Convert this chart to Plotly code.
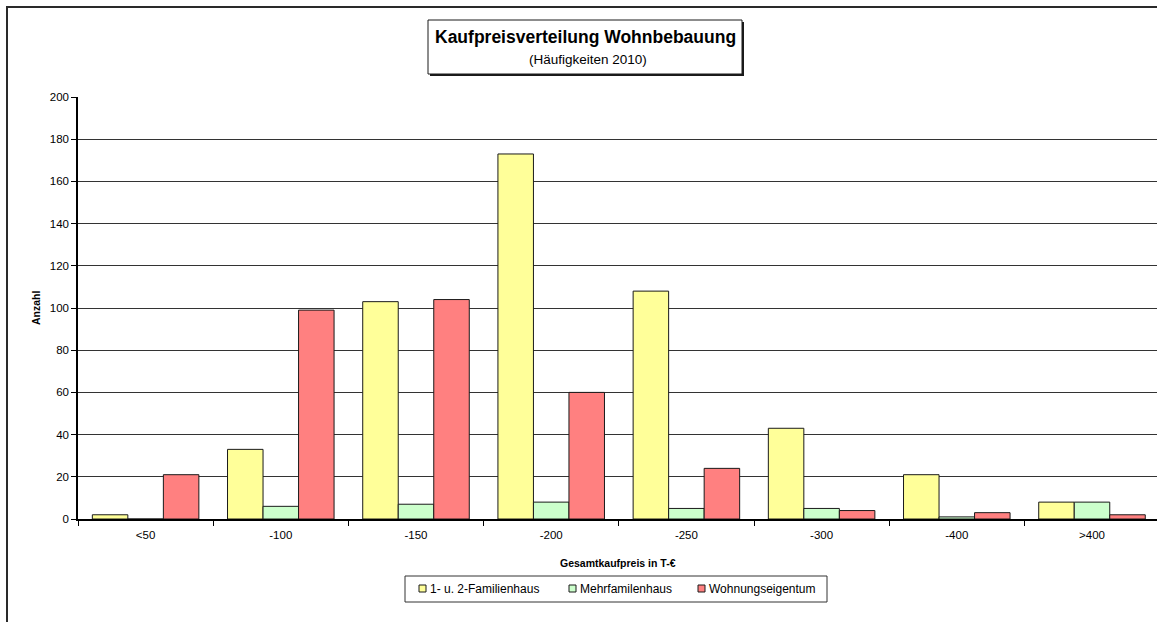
import plotly.graph_objects as go

# Price bands (thousand EUR) and counts per property type, 2010
categories = ["<50", "-100", "-150", "-200", "-250", "-300", "-400", ">400"]
einfamilienhaus = [2, 33, 103, 173, 108, 43, 21, 8]
mehrfamilienhaus = [0, 6, 7, 8, 5, 5, 1, 8]
wohnungseigentum = [21, 99, 104, 60, 24, 4, 3, 2]
series_names = ["1- u. 2-Familienhaus", "Mehrfamilenhaus", "Wohnungseigentum"]
y_ticks = list(range(0, 201, 20))

colors = ["#FFFF99", "#CCFFCC", "#FF8080"]
FONT = "Liberation Sans, Arial, sans-serif"

WIDTH, HEIGHT = 1157, 622
PLOT_LEFT, PLOT_TOP, PLOT_BOTTOM = 78, 97, 519
PLOT_W = WIDTH - PLOT_LEFT
PLOT_H = PLOT_BOTTOM - PLOT_TOP
CAT_PX = 135.2  # pixel width of one price band


def px(x):
    return (x - PLOT_LEFT) / PLOT_W


def py(y):
    return (PLOT_BOTTOM - y) / PLOT_H


fig = go.Figure()
for name, vals, col in zip(series_names,
                           [einfamilienhaus, mehrfamilienhaus, wohnungseigentum],
                           colors):
    fig.add_trace(go.Bar(
        x=categories, y=vals, name=name,
        marker=dict(color=col, line=dict(color="#1a1a1a", width=1)),
        showlegend=False,
    ))

shapes = []
annotations = []

# outer chart frame (left and top edges visible)
shapes.append(dict(type="rect", xref="paper", yref="paper",
                   x0=px(7), x1=px(1300), y0=py(700), y1=py(7),
                   line=dict(color="#2a2a2a", width=2), fillcolor="rgba(0,0,0,0)",
                   layer="below"))

# title box with drop shadow
shapes.append(dict(type="rect", xref="paper", yref="paper",
                   x0=px(430), x1=px(744), y0=py(76), y1=py(22),
                   line=dict(width=0), fillcolor="#1a1a1a"))
shapes.append(dict(type="rect", xref="paper", yref="paper",
                   x0=px(428), x1=px(742), y0=py(74), y1=py(20),
                   line=dict(color="#1a1a1a", width=1), fillcolor="white"))
annotations.append(dict(text="<b>Kaufpreisverteilung Wohnbebauung</b>",
                        xref="paper", yref="paper", x=px(585), y=py(37),
                        xanchor="center", yanchor="middle", showarrow=False,
                        font=dict(family=FONT, size=17.5, color="black")))
annotations.append(dict(text="(Häufigkeiten 2010)",
                        xref="paper", yref="paper", x=px(588), y=py(60),
                        xanchor="center", yanchor="middle", showarrow=False,
                        font=dict(family=FONT, size=13.5, color="black")))

# axis titles
annotations.append(dict(text="<b>Anzahl</b>", textangle=-90,
                        xref="paper", yref="paper", x=px(36), y=py(308),
                        xanchor="center", yanchor="middle", showarrow=False,
                        font=dict(family=FONT, size=10.5, color="black")))
annotations.append(dict(text="<b>Gesamtkaufpreis in T-€</b>",
                        xref="paper", yref="paper", x=px(618), y=py(563),
                        xanchor="center", yanchor="middle", showarrow=False,
                        font=dict(family=FONT, size=10.5, color="black")))

# legend box
shapes.append(dict(type="rect", xref="paper", yref="paper",
                   x0=px(405), x1=px(827), y0=py(602), y1=py(576),
                   line=dict(color="#333333", width=1), fillcolor="white"))
legend_x = [419, 569, 698]
for name, col, lx in zip(series_names, colors, legend_x):
    shapes.append(dict(type="rect", xref="paper", yref="paper",
                       x0=px(lx), x1=px(lx + 7), y0=py(592), y1=py(585),
                       line=dict(color="#1a1a1a", width=1), fillcolor=col))
    annotations.append(dict(text=name, xref="paper", yref="paper",
                            x=px(lx + 9), y=py(588.5),
                            xanchor="left", yanchor="middle", showarrow=False,
                            font=dict(family=FONT, size=12, color="black")))

fig.update_layout(
    width=WIDTH, height=HEIGHT, autosize=False,
    margin=dict(l=PLOT_LEFT, r=0, t=PLOT_TOP, b=HEIGHT - PLOT_BOTTOM, pad=0),
    paper_bgcolor="white", plot_bgcolor="white",
    barmode="group", bargap=0.212, bargroupgap=0,
    font=dict(family=FONT, size=11.5, color="black"),
    shapes=shapes, annotations=annotations,
    xaxis=dict(
        type="category", range=[-0.5, -0.5 + PLOT_W / CAT_PX],
        tickson="boundaries", ticks="outside", ticklen=5, tickcolor="black",
        showline=True, linecolor="black", linewidth=1.5,
        showgrid=False, zeroline=False, fixedrange=True,
        tickfont=dict(family=FONT, size=11.5, color="black"),
        ticklabelstandoff=4,
    ),
    yaxis=dict(
        range=[0, 200], tickvals=y_ticks,
        ticks="outside", ticklen=5, tickcolor="black",
        showline=True, linecolor="black", linewidth=1.5,
        showgrid=True, gridcolor="#333333", gridwidth=1,
        zeroline=False, fixedrange=True,
        tickfont=dict(family=FONT, size=11.5, color="black"),
    ),
)

fig.write_html("out.html")
